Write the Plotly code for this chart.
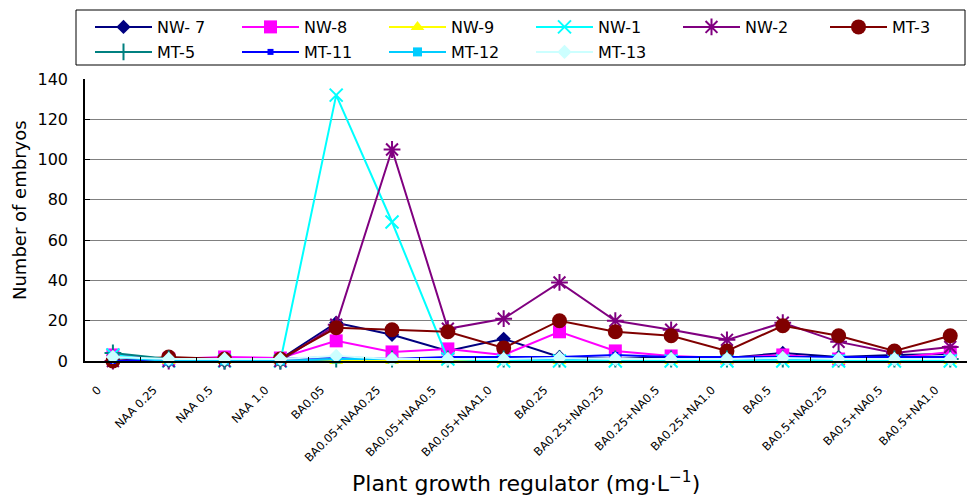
import plotly.graph_objects as go

# Treatments (plant growth regulator combinations, mg/L)
categories = [
    "0", "NAA 0.25", "NAA 0.5", "NAA 1.0",
    "BA0.05", "BA0.05+NAA0.25", "BA0.05+NAA0.5", "BA0.05+NAA1.0",
    "BA0.25", "BA0.25+NA0.25", "BA0.25+NA0.5", "BA0.25+NA1.0",
    "BA0.5", "BA0.5+NA0.25", "BA0.5+NA0.5", "BA0.5+NA1.0",
]

# Number of embryos per line
nw7 = [0, 0, 0, 1, 19, 13, 5, 11, 2, 1, 2, 1.5, 4, 2, 3, 3.5]
nw8 = [3, 1, 2, 1.5, 10, 4.5, 6, 3, 14.5, 5, 2.5, 1.5, 3, 1, 1.5, 4.5]
nw9 = [0, 0, 0, 0, 0, 0, 0, 0, 0, 0, 0, 0, 0, 0, 0, 0]
nw1 = [3, 0, 0, 0, 132, 69, 1, 0, 0, 0, 0, 0, 0, 0, 0, 0]
nw2 = [0, 0, 0, 0, 18, 105, 16, 21, 39, 20, 15.5, 10.5, 19, 9.5, 4, 7]
mt3 = [0, 2, 1, 1, 16.5, 15.5, 14.5, 6.5, 20, 14.5, 12.5, 5, 17.5, 12.5, 5, 12.5]
mt5 = [4, 1, 0, 0, 1, 1, 1, 1, 1, 1, 1, 1, 1, 1, 1, 1]
mt11 = [0, 1, 1, 1, 2, 1, 2, 2, 2, 3, 2, 2, 2, 2, 2, 2]
mt12 = [2, 0, 0, 0, 1, 1, 1, 1, 1, 1, 1, 1, 1, 1, 1, 1]
mt13 = [2, 1, 1, 1, 2.5, 1, 1, 1, 1.5, 1, 1, 1, 1.5, 1, 1, 1]

series = [
    ("NW- 7", nw7, "#000080", "diamond", 11, "legend"),
    ("NW-8", nw8, "#FF00FF", "square", 13, "legend"),
    ("NW-9", nw9, "#FFFF00", "triangle-up", 12, "legend"),
    ("NW-1", nw1, "#00FFFF", "x-thin-open", 13, "legend"),
    ("NW-2", nw2, "#800080", "asterisk-open", 14, "legend"),
    ("MT-3", mt3, "#800000", "circle", 15, "legend"),
    ("MT-5", mt5, "#008080", "cross-thin-open", 12, "legend2"),
    ("MT-11", mt11, "#0000FF", "square", 6, "legend2"),
    ("MT-12", mt12, "#00CCFF", "square", 9, "legend2"),
    ("MT-13", mt13, "#CCFFFF", "diamond", 11, "legend2"),
]

FONT = "DejaVu Sans"

fig = go.Figure()
for name, vals, color, symbol, size, leg in series:
    open_sym = symbol.endswith("-open")
    fig.add_trace(go.Scatter(
        x=categories, y=vals, name=name, mode="lines+markers",
        line=dict(color=color, width=2),
        marker=dict(symbol=symbol, size=size, color=color,
                    line=dict(color=color, width=2 if open_sym else 0)),
        legend=leg, cliponaxis=False,
    ))

W, H = 967, 496
L, R, T, B = 85, 0, 79, 135
pw, ph = W - L - R, H - T - B

legend_common = dict(
    orientation="h", xref="container", yref="container",
    xanchor="left", yanchor="top",
    itemwidth=57, entrywidth=75, entrywidthmode="pixels",
    font=dict(family=FONT, size=16, color="black"),
    bgcolor="rgba(0,0,0,0)", borderwidth=0, tracegroupgap=0,
)

fig.update_layout(
    width=W, height=H,
    margin=dict(l=L, r=R, t=T, b=B, autoexpand=False),
    paper_bgcolor="white", plot_bgcolor="white",
    font=dict(family=FONT, color="black"),
    legend=dict(x=90 / W, y=1 - 10 / H, **legend_common),
    legend2=dict(x=90 / W, y=1 - 35 / H, **legend_common),
    shapes=[dict(
        type="rect", xref="paper", yref="paper",
        x0=(76 - L) / pw, x1=(965 - L) / pw,
        y0=(H - B - 65) / ph, y1=(H - B - 10) / ph,
        line=dict(color="black", width=1), fillcolor="rgba(0,0,0,0)",
    )],
    annotations=[
        dict(text="Plant growth regulator (mg·L<sup>−1</sup>)",
             xref="paper", yref="paper", x=0.5, y=(H - B - 482) / ph,
             xanchor="center", yanchor="middle", showarrow=False,
             font=dict(family=FONT, size=22, color="black")),
        dict(text="Number of embryos", textangle=-90,
             xref="paper", yref="paper", x=(20 - L) / pw, y=(H - B - 210) / ph,
             xanchor="center", yanchor="middle", showarrow=False,
             font=dict(family=FONT, size=18, color="black")),
    ],
)

fig.update_xaxes(
    type="category", range=[-0.5, 15.3],
    showline=True, linecolor="black", linewidth=1.5,
    ticks="inside", tickson="boundaries", ticklen=4, tickcolor="black",
    tickangle=-45, tickfont=dict(family=FONT, size=11.5, color="black"),
    ticklabelshift=-15, ticklabelstandoff=16,
    showgrid=False, zeroline=False,
)
fig.update_yaxes(
    range=[0, 140], dtick=20,
    showline=True, linecolor="black", linewidth=1.5,
    ticks="inside", ticklen=5, tickcolor="black",
    tickfont=dict(family=FONT, size=16, color="black"),
    ticklabelstandoff=12,
    showgrid=True, gridcolor="#808080", gridwidth=1, zeroline=False,
)

fig.write_html("out.html")
